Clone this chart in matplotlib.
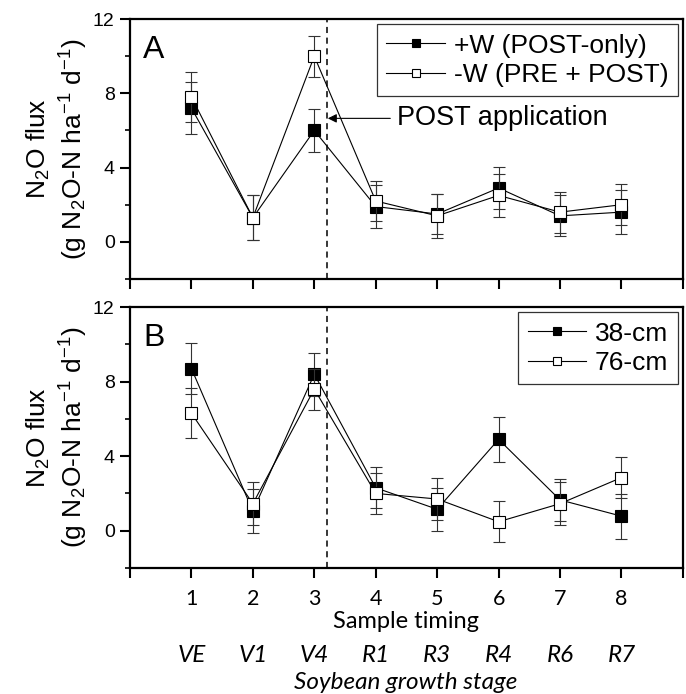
import matplotlib
matplotlib.use("Agg")
import matplotlib.pyplot as plt
import numpy as np

plt.rcParams["mathtext.fontset"] = "custom"
plt.rcParams["mathtext.rm"] = "Liberation Sans"
plt.rcParams["mathtext.it"] = "Liberation Sans:italic"

# sample timing and growth stage
timing = [1, 2, 3, 4, 5, 6, 7, 8]
stages = ["VE", "V1", "V4", "R1", "R3", "R4", "R6", "R7"]

# panel A: weed control
w_plus = [7.2, 1.3, 6.0, 1.9, 1.5, 2.9, 1.4, 1.6]
w_plus_se = [1.4, 1.2, 1.15, 1.15, 1.1, 1.15, 1.1, 1.2]
w_minus = [7.8, 1.3, 10.0, 2.2, 1.4, 2.5, 1.6, 2.0]
w_minus_se = [1.35, 1.2, 1.1, 1.1, 1.2, 1.15, 1.1, 1.1]

# panel B: row spacing
cm38 = [8.7, 1.05, 8.4, 2.3, 1.15, 4.9, 1.65, 0.78]
cm38_se = [1.35, 1.2, 1.15, 1.1, 1.15, 1.2, 1.15, 1.2]
cm76 = [6.3, 1.45, 7.6, 2.0, 1.7, 0.48, 1.45, 2.85]
cm76_se = [1.35, 1.15, 1.1, 1.1, 1.15, 1.1, 1.15, 1.1]

arial = "Liberation Sans"
calib = "Lato"

fig = plt.figure(figsize=(6.86, 6.94), dpi=100)
axA = fig.add_axes([0.1895, 0.598, 0.806, 0.3746])
axB = fig.add_axes([0.1895, 0.1816, 0.806, 0.376])


def draw(ax, y1, e1, y2, e2, lab1, lab2):
    for y, e, fc, lab, z in [(y1, e1, "black", lab1, 3), (y2, e2, "white", lab2, 4)]:
        ax.errorbar(timing, y, yerr=e, fmt="none", ecolor="#333333",
                    elinewidth=0.8, capsize=4, capthick=0.8, zorder=z)
        ax.plot(timing, y, color="black", lw=0.8, marker="s", ms=8,
                mfc=fc, mec="black", mew=0.8, label=lab, zorder=z)
    ax.axvline(3.2, color="black", ls=(0, (4, 3)), lw=1.1, zorder=1)
    ax.set_xlim(0, 9)
    ax.set_ylim(-2, 12)
    ax.set_xticks(range(0, 10))
    ax.set_yticks([0, 4, 8, 12])
    ax.set_yticks([-2, 2, 6, 10], minor=True)
    ax.tick_params(axis="both", which="major", direction="out", length=7.5,
                   width=1.5, labelsize=14)
    ax.tick_params(axis="y", which="minor", direction="out", length=3.5,
                   width=1.2)
    for lbl in ax.get_yticklabels():
        lbl.set_fontfamily(arial)
    for s in ax.spines.values():
        s.set_linewidth(1.6)
    ax.set_ylabel("N$_2$O flux\n(g N$_2$O-N ha$^{-1}$ d$^{-1}$)",
                  fontsize=19, fontfamily=arial, labelpad=2, linespacing=1.25)
    leg = ax.legend(loc="upper right", numpoints=1, fancybox=False,
                    edgecolor="#333333", framealpha=1, handlelength=2.2,
                    handletextpad=0.35, borderpad=0.35, labelspacing=0.2,
                    borderaxespad=0.2, markerscale=0.75,
                    prop={"family": arial, "size": 19})
    leg.get_frame().set_linewidth(0.9)
    return ax


draw(axA, w_plus, w_plus_se, w_minus, w_minus_se,
     "+W (POST-only)", "-W (PRE + POST)")
draw(axB, cm38, cm38_se, cm76, cm76_se, "38-cm", "76-cm")

axA.set_xticklabels([])
axB.set_xticklabels([""] + [str(t) for t in timing] + [""],
                    fontfamily=calib, fontsize=15.5)
axB.tick_params(axis="x", pad=8)

axA.text(0.024, 0.94, "A", transform=axA.transAxes, fontsize=23,
         fontfamily=arial, va="top", ha="left")
axB.text(0.024, 0.94, "B", transform=axB.transAxes, fontsize=23,
         fontfamily=arial, va="top", ha="left")

axA.annotate("POST application", xy=(3.22, 6.65), xytext=(4.35, 6.65),
             fontsize=19.5, fontfamily=arial, va="center", ha="left",
             arrowprops=dict(arrowstyle="-|>", color="black", lw=0.8,
                             mutation_scale=13, shrinkA=3, shrinkB=0))

fig.text(0.592, 0.104, "Sample timing", fontsize=17, fontfamily=calib,
         ha="center", va="center")
for t, s in zip(timing, stages):
    axB.annotate(s, xy=(t, 0), xycoords=("data", "figure fraction"),
                 xytext=(t, 0.0548), textcoords=("data", "figure fraction"),
                 fontsize=17.5, fontfamily=calib, style="italic",
                 ha="center", va="center")
fig.text(0.592, 0.017, "Soybean growth stage", fontsize=17.5,
         fontfamily=calib, style="italic", ha="center", va="center")

fig.savefig("out.png", dpi=100)
